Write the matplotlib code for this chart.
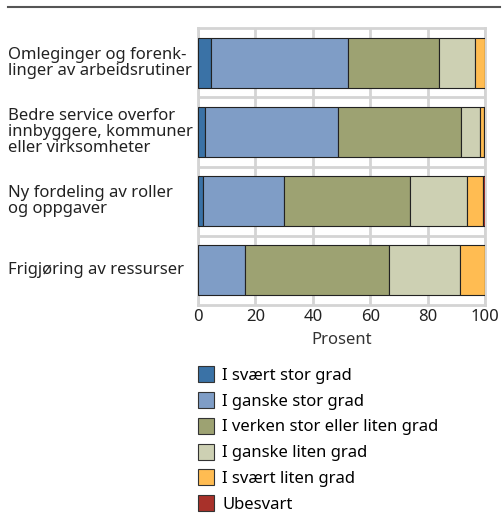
import numpy as np
import matplotlib.pyplot as plt
from matplotlib.patches import Patch
from matplotlib.lines import Line2D
from matplotlib.transforms import blended_transform_factory

plt.rcParams['font.family'] = ['Noto Sans', 'DejaVu Sans']

categories = ['Omleginger og forenk-\nlinger av arbeidsrutiner',
              'Bedre service overfor\ninnbyggere, kommuner\neller virksomheter',
              'Ny fordeling av roller\nog oppgaver',
              'Frigjøring av ressurser']
series = ['I svært stor grad', 'I ganske stor grad',
          'I verken stor eller liten grad', 'I ganske liten grad',
          'I svært liten grad', 'Ubesvart']
svaert_stor = [4.4, 2.4, 1.7, 0.0]
ganske_stor = [47.9, 46.5, 28.4, 16.5]
verken = [31.5, 42.9, 43.8, 50.1]
ganske_liten = [12.8, 6.4, 19.7, 24.6]
svaert_liten = [3.4, 1.6, 5.7, 8.8]
ubesvart = [0.0, 0.2, 0.7, 0.0]
colors = ['#3a72a6', '#7f9dc6', '#9da272', '#cdd0b3', '#ffbc52', '#a8312a']
xticks = [0, 20, 40, 60, 80, 100]

values = [svaert_stor, ganske_stor, verken, ganske_liten, svaert_liten, ubesvart]
fs = 12

fig = plt.figure(figsize=(5.04, 5.14), dpi=100)
ax = fig.add_axes([198/504, 1-305/514, 287/504, 277/514])

y = np.arange(len(categories))
left = np.zeros(len(categories))
for vals, col in zip(values, colors):
    ax.barh(y, vals, left=left, height=0.72, color=col,
            edgecolor='#222222', linewidth=0.8, zorder=3)
    left += np.array(vals)

ax.set_xlim(0, 100)
ax.set_ylim(3.5, -0.5)
ax.set_xticks(xticks)
ax.set_xticklabels([str(t) for t in xticks], fontsize=fs, color='#222222')
ax.tick_params(axis='x', length=0, pad=3)
ax.set_yticks([])
ax.set_yticks([0.5, 1.5, 2.5], minor=True)
ax.tick_params(axis='y', which='both', length=0)
ax.grid(True, axis='x', color='#d4d4d4', linewidth=2, zorder=0)
ax.grid(True, axis='y', which='minor', color='#d4d4d4', linewidth=2, zorder=0)
for s in ax.spines.values():
    s.set_color('#d4d4d4')
    s.set_linewidth(2)
ax.set_xlabel('Prosent', fontsize=fs, color='#333333', labelpad=5)

trans = blended_transform_factory(fig.transFigure, ax.transData)
for yi, lab in zip(y, categories):
    ax.text(8/504, yi, lab, transform=trans, ha='left', va='center',
            fontsize=fs, color='#222222', linespacing=1.0)

# top rule
fig.add_artist(Line2D([8/504, 500/504], [1-7/514, 1-7/514], color='#555555', linewidth=1.5))

handles = [Patch(facecolor=c, edgecolor='#333333', linewidth=0.8) for c in colors]
fig.legend(handles, series, loc='upper left', bbox_to_anchor=(198/504, 1-366/514),
           frameon=False, fontsize=fs, handlelength=0.95, handleheight=1.1,
           handletextpad=0.5, labelspacing=0.49, borderaxespad=0, borderpad=0)

fig.savefig('out.png')
